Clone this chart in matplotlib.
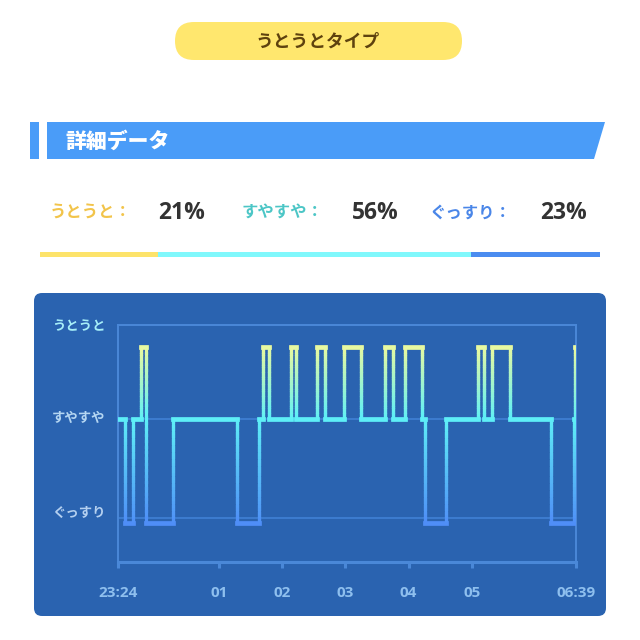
import numpy as np
import matplotlib
matplotlib.use("Agg")
import matplotlib.pyplot as plt
from matplotlib.patches import FancyBboxPatch, Rectangle, Polygon
from matplotlib.collections import LineCollection
from matplotlib.colors import LinearSegmentedColormap

plt.rcParams['font.family'] = ['Noto Sans CJK JP', 'DejaVu Sans']
num_font = ['Open Sans', 'DejaVu Sans']

# sleep stages: minutes after 23:24 where each stage starts
stage_start = [0, 7, 14, 22, 27, 52, 113, 134, 138, 143, 164, 169, 189, 197,
               215, 231, 254, 261, 273, 289, 292, 312, 342, 348, 355, 372,
               411, 433, 434]
stage_name = ['light', 'deep', 'light', 'doze', 'deep', 'light', 'deep', 'light',
              'doze', 'light', 'doze', 'light', 'doze', 'light', 'doze', 'light',
              'doze', 'light', 'doze', 'light', 'deep', 'light', 'doze', 'light',
              'doze', 'light', 'deep', 'light', 'doze']
end_minute = 435

tick_minutes = [0, 96, 156, 216, 276, 336, 435]
tick_labels = ['23:24', '01', '02', '03', '04', '05', '06:39']

stage_labels = ['うとうと', 'すやすや', 'ぐっすり']
stage_pct = [21, 56, 23]
stage_colors = ['#f2c44a', '#4cc6c6', '#4a86e8']
bar_colors = ['#fde36a', '#80f8fc', '#4a8cf0']

fig = plt.figure(figsize=(6.4, 6.4), dpi=100)
fig.patch.set_facecolor('white')

# full-figure axes in pixel units for the card decorations
bg = fig.add_axes([0, 0, 1, 1])
bg.set_xlim(0, 640)
bg.set_ylim(640, 0)
bg.axis('off')

bg.add_patch(FancyBboxPatch((175, 22), 287, 38, boxstyle="round,pad=0,rounding_size=19",
                            fc='#ffe76e', ec='none'))
bg.text(318, 42, 'うとうとタイプ', ha='center', va='center', fontsize=12.8,
        fontweight='bold', color='#5e420e')

bg.add_patch(Rectangle((30, 122), 9, 37, fc='#4a9cf8', ec='none'))
bg.add_patch(Polygon([(47, 122), (605, 122), (594, 159), (47, 159)], closed=True,
                     fc='#4a9cf8', ec='none'))
bg.text(65, 141, '詳細データ', ha='left', va='center', fontsize=15,
        fontweight='heavy', color='white')

for lab, pct, col, lx, vx in zip(stage_labels, stage_pct, stage_colors,
                                 [50, 242, 430], [158, 352, 540]):
    bg.text(lx, 213, lab + '：', ha='left', va='center', fontsize=11.8,
            fontweight='bold', color=col)
    bg.text(vx, 213, f'{pct}%', ha='left', va='center', fontsize=16.5,
            fontweight='bold', color='#333333', family=num_font)

# stacked percentage bar
bar_scale = 560 / sum(stage_pct)
left = 40
for pct, col in zip(stage_pct, bar_colors):
    bg.barh(254.5, pct * bar_scale, left=left, height=5, color=col)
    left += pct * bar_scale

bg.add_patch(FancyBboxPatch((34, 293), 572, 323, boxstyle="round,pad=0,rounding_size=8",
                            fc='#2a63b0', ec='none'))

label_y = {'うとうと': 326, 'すやすや': 418, 'ぐっすり': 513}
label_col = {'うとうと': '#a6eef8', 'すやすや': '#b4d6f2', 'ぐっすり': '#b4d0f0'}
for lab in stage_labels:
    bg.text(52, label_y[lab], lab, ha='left', va='center', fontsize=9.6,
            fontweight='bold', color=label_col[lab])

# chart axes
ax = fig.add_axes([118 / 640, 1 - 562 / 640, (576 - 118) / 640, (562 - 325) / 640])
ax.set_facecolor('none')
ax.set_xlim(0, end_minute)
ax.set_ylim(-0.444, 1.949)
frame = '#4a88d8'
for s in ['left', 'top', 'right']:
    ax.spines[s].set_color(frame)
    ax.spines[s].set_linewidth(1.4)
ax.spines['bottom'].set_color(frame)
ax.spines['bottom'].set_linewidth(2.2)
ax.set_yticks([])
ax.set_xticks(tick_minutes)
ax.set_xticklabels(tick_labels)
ax.tick_params(axis='x', colors=frame, length=4, width=2.2, pad=13,
               labelcolor='#8ebfee', labelsize=11)
for lbl in ax.get_xticklabels():
    lbl.set_fontweight('bold')
    lbl.set_family(num_font)
for gy in [0, 1]:
    ax.axhline(gy, color='#3f7ed2', lw=1.3, zorder=1)

level_y = {'deep': -0.05, 'light': 1.0, 'doze': 1.73}
xs, ys = [], []
times = stage_start + [end_minute]
for i, st in enumerate(stage_name):
    xs += [times[i], times[i + 1]]
    ys += [level_y[st], level_y[st]]

# split the step path into small pieces so the colour can follow the height
segs, vals, widths = [], [], []
for i in range(len(xs) - 1):
    flat = ys[i] == ys[i + 1]
    n = 1 if flat else 30
    px = np.linspace(xs[i], xs[i + 1], n + 1)
    py = np.linspace(ys[i], ys[i + 1], n + 1)
    for j in range(n):
        segs.append([(px[j], py[j]), (px[j + 1], py[j + 1])])
        vals.append((py[j] + py[j + 1]) / 2)
        widths.append(3.4 if flat else 2.3)

cmap = LinearSegmentedColormap.from_list(
    'sleep', [(0.0, '#4f8ef7'), (0.6, '#5ef0f7'), (1.0, '#e8f9a0')])
lc = LineCollection(segs, cmap=cmap, linewidths=widths, capstyle='projecting', zorder=3)
lc.set_array(np.array(vals))
lc.set_clim(-0.05, 1.73)
ax.add_collection(lc)

fig.savefig('out.png', dpi=100, facecolor='white')
